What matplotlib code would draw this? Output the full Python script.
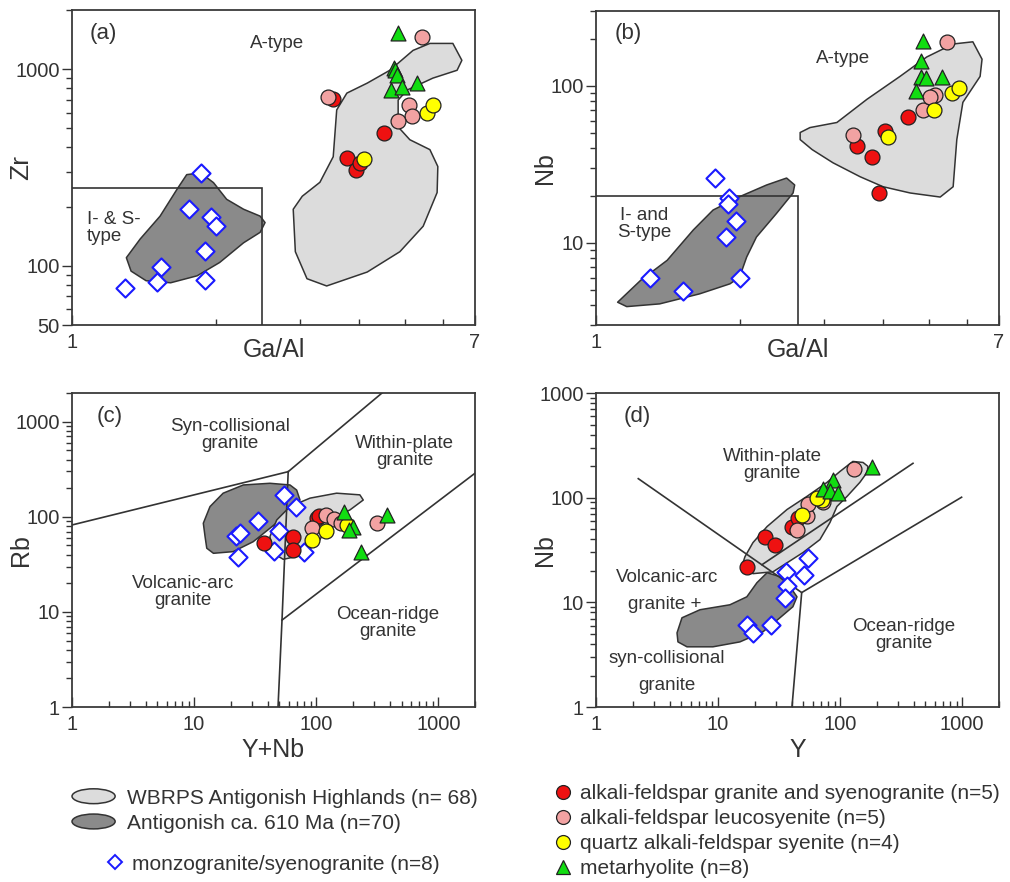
import numpy as np
import matplotlib
matplotlib.use("Agg")
import matplotlib.pyplot as plt
import matplotlib.patches as mpatches
from matplotlib.lines import Line2D
from matplotlib.legend_handler import HandlerPatch
from matplotlib.ticker import NullFormatter, LogLocator

plt.rcParams.update({
    "font.family": ["Liberation Sans", "DejaVu Sans"],
    "font.size": 13,
    "axes.linewidth": 1.3,
    "axes.edgecolor": "#3a3a3a",
    "text.color": "#333333",
    "xtick.color": "#333333",
    "ytick.color": "#333333",
})

# colours
C_LIGHT = "#dcdcdc"
C_DARK = "#8a8a8a"
C_EDGE = "#333333"
C_RED = "#ee1111"
C_PINK = "#f2a2a2"
C_YEL = "#ffff00"
C_GRN = "#11dd11"
C_BLUE = "#1a1aff"

# ----------------------------------------------------------------------
# (a) Ga/Al vs Zr
# ----------------------------------------------------------------------
a_light_x = [6.29, 6.57, 6.42, 5.71, 5.04, 4.83, 4.83, 5.11, 5.63, 5.85, 5.83, 5.45, 4.87,
             4.16, 3.42, 3.11, 2.94, 2.91, 3.04, 3.31, 3.53, 3.59, 3.77, 4.16, 4.64, 5.19, 5.63]
a_light_y = [1353, 1110, 988, 901, 783, 697, 509, 438, 390, 320, 236, 159, 118,
             93, 79, 86, 118, 194, 226, 266, 359, 621, 756, 850, 988, 1247, 1353]
a_dark_x = [1.30, 1.39, 1.53, 1.66, 1.74, 1.86, 1.98, 2.11, 2.29, 2.48, 2.54, 2.48, 2.29,
            2.04, 1.83, 1.61, 1.43, 1.33]
a_dark_y = [110, 137, 179, 245, 291, 297, 265, 218, 194, 179, 166, 148, 131,
            104, 89, 82, 84, 94]
a_box_x = [1, 2.5, 2.5]
a_box_y = [250, 250, 50]
a_mz_x = [1.86, 1.76, 1.96, 2.00, 1.90, 1.54, 1.51, 1.90, 1.29]
a_mz_y = [295, 194, 177, 159, 119, 99, 83, 85, 77]
a_red_x = [3.77, 3.94, 4.02, 4.51, 3.53]
a_red_y = [355, 309, 335, 475, 706]
a_pink_x = [3.44, 5.42, 5.09, 5.16, 4.83]
a_pink_y = [722, 1451, 658, 579, 546]
a_yel_x = [4.10, 5.55, 5.71]
a_yel_y = [351, 600, 658]
a_grn_x = [4.83, 4.74, 4.76, 4.80, 4.67, 4.92, 5.29]
a_grn_y = [1520, 1010, 988, 933, 783, 811, 850]

# ----------------------------------------------------------------------
# (b) Ga/Al vs Nb
# ----------------------------------------------------------------------
b_light_x = [2.68, 2.81, 3.20, 3.70, 4.34, 4.94, 5.61, 6.17, 6.45, 6.39, 5.88, 5.71, 5.61,
             5.27, 4.56, 4.00, 3.58, 3.14, 2.84, 2.68]
b_light_y = [50.5, 54.3, 58.5, 82.2, 115, 153, 185, 191, 148, 115, 78.6, 45.5, 22.8,
             19.6, 20.8, 22.8, 26.4, 32.4, 39.3, 45.5]
b_dark_x = [1.11, 1.24, 1.41, 1.60, 1.76, 2.00, 2.28, 2.51, 2.61, 2.59, 2.39, 2.17, 2.07,
            2.00, 1.91, 1.65, 1.36, 1.16]
b_dark_y = [4.19, 5.77, 7.75, 12.1, 16.2, 19.7, 23.4, 25.9, 23.4, 20.8, 15.4, 10.9, 8.13,
            6.05, 5.49, 4.74, 4.09, 3.93]
b_box_x = [1, 2.65, 2.65]
b_box_y = [20, 20, 3]
b_mz_x = [1.78, 1.90, 1.89, 1.97, 1.87, 1.30, 1.52, 2.00]
b_mz_y = [26.0, 19.3, 17.7, 13.8, 10.9, 5.94, 4.97, 5.94]
b_red_x = [3.53, 3.79, 4.04, 4.51, 3.92]
b_red_y = [41.7, 35.4, 52.0, 63.0, 20.8]
b_pink_x = [3.46, 4.85, 5.14, 5.45, 5.02]
b_pink_y = [49.0, 69.9, 87.2, 191, 84.7]
b_yel_x = [4.10, 5.11, 5.58, 5.77]
b_yel_y = [47.6, 69.9, 89.8, 96.7]
b_grn_x = [4.85, 4.80, 4.80, 4.92, 4.69, 5.32]
b_grn_y = [193, 144, 114, 112, 92.5, 114]

# ----------------------------------------------------------------------
# (c) Y+Nb vs Rb
# ----------------------------------------------------------------------
c_light_x = [41.8, 44.5, 53.8, 78.4, 107, 130, 189, 243, 228, 147, 89, 61, 47.5]
c_light_y = [61.8, 41.3, 35.7, 39.6, 57.0, 92.5, 118, 150, 170, 177, 157, 128, 92.5]
c_dark_x = [12.3, 11.9, 13.5, 17.3, 25.3, 41.8, 61, 69.2, 73.7, 64.9, 50.5, 41.8, 30.5,
            20.9, 14.4, 12.7]
c_dark_y = [61.8, 85.5, 128, 177, 216, 225, 216, 191, 150, 128, 92.5, 75.7, 54.7,
            43.0, 41.3, 46.7]
c_syn_x, c_syn_y = [1, 59], [82, 298]
c_wpg_x, c_wpg_y = [59, 346], [298, 2000]
c_vag_x, c_vag_y = [59, 52.5, 48.7], [298, 8.2, 1]
c_org_x, c_org_y = [52.5, 2000], [8.2, 287]
c_mz_x = [54.5, 68.3, 33.2, 22.0, 23.9, 49.9, 23.1, 45.1, 79.5]
c_mz_y = [170, 128, 91, 63.0, 67.3, 70.9, 37.5, 43.6, 43.0]
c_red_x = [37.4, 64.2, 64.9, 101, 106]
c_red_y = [52.6, 61.8, 44.8, 96, 102]
c_pink_x = [91.8, 120, 140, 159, 313]
c_pink_y = [75.7, 104.5, 94.1, 86.7, 86.7]
c_yel_x = [91.8, 120, 178]
c_yel_y = [57.0, 70.9, 82]
c_grn_x = [169, 201, 187, 382, 233]
c_grn_y = [113, 78.7, 72.6, 104.5, 43.0]

# ----------------------------------------------------------------------
# (d) Y vs Nb
# ----------------------------------------------------------------------
d_light_x = [16.0, 19.3, 28.2, 49.6, 68.3, 82.5, 94.1, 114, 145, 166, 169, 154, 127,
             99.6, 78, 53.5, 36.7, 25.2, 19.3, 16.6]
d_light_y = [23.9, 18.8, 19.6, 29.9, 39.8, 57.9, 82.4, 103, 140, 174, 199, 217, 222,
             178, 140, 103, 77.1, 53, 37.2, 27.3]
d_dark_x = [4.61, 5.06, 7.11, 12.5, 17.2, 20.8, 25.2, 32.1, 38.8, 44.3, 41.0, 32.1, 23.3,
            15.1, 9.08, 5.56, 4.69]
d_dark_y = [5.11, 7.12, 8.50, 9.48, 11.3, 15.4, 19.2, 17.6, 14.1, 11.3, 9.08, 7.12, 5.23,
            4.19, 3.76, 3.76, 4.19]
d_vag_x, d_vag_y = [2.22, 48.4], [152, 12.4]
d_org_x, d_org_y = [40.3, 48.4, 988], [1, 12.4, 101]
d_aorg_x, d_aorg_y = [22.9, 395], [22.9, 213]
d_mz_x = [54.5, 36.0, 50.5, 36.7, 35.3, 17.2, 19.3, 27.1]
d_mz_y = [26.8, 19.6, 18.4, 14.4, 11.1, 6.10, 5.11, 6.10]
d_red_x = [17.2, 24.2, 29.2, 40.3, 45.1]
d_red_y = [21.9, 42.5, 35.6, 53, 64.6]
d_yel_x = [48.7, 71, 64.6]
d_yel_y = [69, 96, 100]
d_pink_x = [44.3, 53.5, 54.5, 72.3, 130]
d_pink_y = [49.6, 67.5, 86.1, 90, 190]
d_grn_x = [182, 87.3, 72.3, 82.5, 95.9]
d_grn_y = [195, 146, 120, 115, 110]

LEG_FIELDS = ["WBRPS Antigonish Highlands (n= 68)", "Antigonish ca. 610 Ma (n=70)"]
LEG_MZ = "monzogranite/syenogranite (n=8)"
LEG_ROCKS = ["alkali-feldspar granite and syenogranite (n=5)",
             "alkali-feldspar leucosyenite (n=5)",
             "quartz alkali-feldspar syenite (n=4)",
             "metarhyolite (n=8)"]


# ----------------------------------------------------------------------
def field(ax, xs, ys, fc, z):
    ax.add_patch(mpatches.Polygon(np.column_stack([xs, ys]), closed=True,
                                  facecolor=fc, edgecolor=C_EDGE, lw=1.1,
                                  joinstyle="round", zorder=z))


def boundary(ax, xs, ys):
    ax.plot(xs, ys, color=C_EDGE, lw=1.2, zorder=3, solid_joinstyle="miter")


def samples(ax, mz, red, pink, yel, grn):
    ax.scatter(*mz, marker="D", s=85, facecolor="white", edgecolor=C_BLUE,
               linewidths=1.5, zorder=5)
    ax.scatter(*red, marker="o", s=115, facecolor=C_RED, edgecolor="#222",
               linewidths=0.9, zorder=6)
    ax.scatter(*pink, marker="o", s=115, facecolor=C_PINK, edgecolor="#222",
               linewidths=0.9, zorder=7)
    ax.scatter(*yel, marker="o", s=115, facecolor=C_YEL, edgecolor="#222",
               linewidths=0.9, zorder=8)
    ax.scatter(*grn, marker="^", s=115, facecolor=C_GRN, edgecolor="#222",
               linewidths=0.9, zorder=9)


def log_axes(ax, xlim, ylim, xt, yt, xminor=None):
    ax.set_xscale("log")
    ax.set_yscale("log")
    ax.set_xlim(*xlim)
    ax.set_ylim(*ylim)
    ax.set_xticks(xt, [str(v) for v in xt])
    ax.set_yticks(yt, [str(v) for v in yt])
    if xminor is not None:
        ax.set_xticks(xminor, minor=True)
    else:
        ax.xaxis.set_minor_locator(LogLocator(subs=np.arange(2, 10), numticks=20))
    ax.yaxis.set_minor_locator(LogLocator(subs=np.arange(2, 10), numticks=20))
    ax.xaxis.set_minor_formatter(NullFormatter())
    ax.yaxis.set_minor_formatter(NullFormatter())
    ax.tick_params(axis="x", which="both", direction="in", top=False, pad=6)
    ax.tick_params(axis="y", which="both", direction="out", right=False, pad=2)
    ax.tick_params(which="major", length=7, width=1.0, labelsize=14.5)
    ax.tick_params(which="minor", length=4, width=1.0)


def label(ax, x, y, s, ha="center", size=13.5):
    ax.text(x, y, s, transform=ax.transAxes, ha=ha, va="center",
            fontsize=size, linespacing=1.05, color="#333333", zorder=10)


fig = plt.figure(figsize=(10.1, 8.82), dpi=100)
ax_a = fig.add_axes([0.0713, 0.6315, 0.399, 0.3571])
ax_b = fig.add_axes([0.5901, 0.6315, 0.399, 0.3560])
ax_c = fig.add_axes([0.0713, 0.1984, 0.399, 0.3560])
ax_d = fig.add_axes([0.5901, 0.1984, 0.399, 0.3560])

# (a) ------------------------------------------------------------------
log_axes(ax_a, (1, 7), (50, 2000), [1, 7], [50, 100, 1000], xminor=[2, 3, 4, 5, 6])
field(ax_a, a_light_x, a_light_y, C_LIGHT, 1)
field(ax_a, a_dark_x, a_dark_y, C_DARK, 1)
boundary(ax_a, a_box_x, a_box_y)
samples(ax_a, (a_mz_x, a_mz_y), (a_red_x, a_red_y), (a_pink_x, a_pink_y),
        (a_yel_x, a_yel_y), (a_grn_x, a_grn_y))
ax_a.set_ylabel("Zr", fontsize=19)
ax_a.set_xlabel("Ga/Al", fontsize=18)
label(ax_a, 0.077, 0.927, "(a)", size=16)
label(ax_a, 0.509, 0.895, "A-type")
label(ax_a, 0.037, 0.308, "I- & S-\ntype", ha="left")

# (b) ------------------------------------------------------------------
log_axes(ax_b, (1, 7), (3, 300), [1, 7], [10, 100], xminor=[2, 3, 4, 5, 6])
field(ax_b, b_light_x, b_light_y, C_LIGHT, 1)
field(ax_b, b_dark_x, b_dark_y, C_DARK, 1)
boundary(ax_b, b_box_x, b_box_y)
samples(ax_b, (b_mz_x, b_mz_y), (b_red_x, b_red_y), (b_pink_x, b_pink_y),
        (b_yel_x, b_yel_y), (b_grn_x, b_grn_y))
ax_b.set_ylabel("Nb", fontsize=18)
ax_b.set_xlabel("Ga/Al", fontsize=18)
label(ax_b, 0.079, 0.930, "(b)", size=16)
label(ax_b, 0.613, 0.850, "A-type")
label(ax_b, 0.119, 0.322, "I- and\nS-type")

# (c) ------------------------------------------------------------------
log_axes(ax_c, (1, 2000), (1, 2000), [1, 10, 100, 1000], [1, 10, 100, 1000])
field(ax_c, c_dark_x, c_dark_y, C_DARK, 1)
field(ax_c, c_light_x, c_light_y, C_LIGHT, 1.5)
for xs, ys in [(c_syn_x, c_syn_y), (c_wpg_x, c_wpg_y), (c_vag_x, c_vag_y), (c_org_x, c_org_y)]:
    boundary(ax_c, xs, ys)
samples(ax_c, (c_mz_x, c_mz_y), (c_red_x, c_red_y), (c_pink_x, c_pink_y),
        (c_yel_x, c_yel_y), (c_grn_x, c_grn_y))
ax_c.set_ylabel("Rb", fontsize=18)
ax_c.set_xlabel("Y+Nb", fontsize=18)
label(ax_c, 0.094, 0.924, "(c)", size=16)
label(ax_c, 0.392, 0.866, "Syn-collisional\ngranite")
label(ax_c, 0.826, 0.812, "Within-plate\ngranite")
label(ax_c, 0.275, 0.366, "Volcanic-arc\ngranite")
label(ax_c, 0.784, 0.268, "Ocean-ridge\ngranite")

# (d) ------------------------------------------------------------------
log_axes(ax_d, (1, 2000), (1, 1000), [1, 10, 100, 1000], [1, 10, 100, 1000])
field(ax_d, d_dark_x, d_dark_y, C_DARK, 1)
field(ax_d, d_light_x, d_light_y, C_LIGHT, 1.5)
for xs, ys in [(d_vag_x, d_vag_y), (d_org_x, d_org_y), (d_aorg_x, d_aorg_y)]:
    boundary(ax_d, xs, ys)
samples(ax_d, (d_mz_x, d_mz_y), (d_red_x, d_red_y), (d_pink_x, d_pink_y),
        (d_yel_x, d_yel_y), (d_grn_x, d_grn_y))
ax_d.set_ylabel("Nb", fontsize=18)
ax_d.set_xlabel("Y", fontsize=18)
label(ax_d, 0.102, 0.924, "(d)", size=16)
label(ax_d, 0.437, 0.771, "Within-plate\ngranite")
label(ax_d, 0.176, 0.411, "Volcanic-arc")
label(ax_d, 0.171, 0.325, "granite +")
label(ax_d, 0.176, 0.156, "syn-collisional")
label(ax_d, 0.176, 0.070, "granite")
label(ax_d, 0.764, 0.229, "Ocean-ridge\ngranite")

for ax in (ax_a, ax_b, ax_c, ax_d):
    ax.yaxis.set_label_coords(-0.097, 0.5)
    ax.yaxis.label.set_color("#333333")
    ax.xaxis.label.set_color("#333333")
for ax in (ax_a, ax_b):
    ax.xaxis.set_label_coords(0.5, -0.040)
for ax in (ax_c, ax_d):
    ax.xaxis.set_label_coords(0.5, -0.100)

# ----------------------------------------------------------------------
# Legends
# ----------------------------------------------------------------------
def ellipse_patch(legend, orig_handle, xdescent, ydescent, width, height, fontsize):
    return mpatches.Ellipse((width / 2 - xdescent, height / 2 - ydescent), width, height)


field_handles = [mpatches.Patch(facecolor=C_LIGHT, edgecolor=C_EDGE, lw=1.1),
                 mpatches.Patch(facecolor=C_DARK, edgecolor=C_EDGE, lw=1.1)]
fig.legend(field_handles, LEG_FIELDS, loc="upper left", bbox_to_anchor=(0.0713, 0.106),
           frameon=False, fontsize=15, handlelength=2.07, handleheight=0.72,
           handletextpad=0.58, labelspacing=0.30, borderpad=0, borderaxespad=0,
           labelcolor="#333333",
           handler_map={mpatches.Patch: HandlerPatch(patch_func=ellipse_patch)})

mz_handle = Line2D([], [], marker="D", ls="none", markersize=7, markerfacecolor="white",
                   markeredgecolor=C_BLUE, markeredgewidth=1.4)
fig.legend([mz_handle], [LEG_MZ], loc="upper left", bbox_to_anchor=(0.1056, 0.031),
           frameon=False, fontsize=15, handlelength=0.8, handletextpad=0.42,
           borderpad=0, borderaxespad=0, labelcolor="#333333")

rock_handles = [
    Line2D([], [], marker="o", ls="none", markersize=10, markerfacecolor=C_RED,
           markeredgecolor="#222", markeredgewidth=0.9),
    Line2D([], [], marker="o", ls="none", markersize=10, markerfacecolor=C_PINK,
           markeredgecolor="#222", markeredgewidth=0.9),
    Line2D([], [], marker="o", ls="none", markersize=10, markerfacecolor=C_YEL,
           markeredgecolor="#222", markeredgewidth=0.9),
    Line2D([], [], marker="^", ls="none", markersize=10, markerfacecolor=C_GRN,
           markeredgecolor="#222", markeredgewidth=0.9),
]
fig.legend(rock_handles, LEG_ROCKS, loc="upper left", bbox_to_anchor=(0.548, 0.111),
           frameon=False, fontsize=15, handlelength=0.9, handletextpad=0.35,
           labelspacing=0.29, borderpad=0, borderaxespad=0, labelcolor="#333333")

fig.savefig("out.png", dpi=100, facecolor="white")
